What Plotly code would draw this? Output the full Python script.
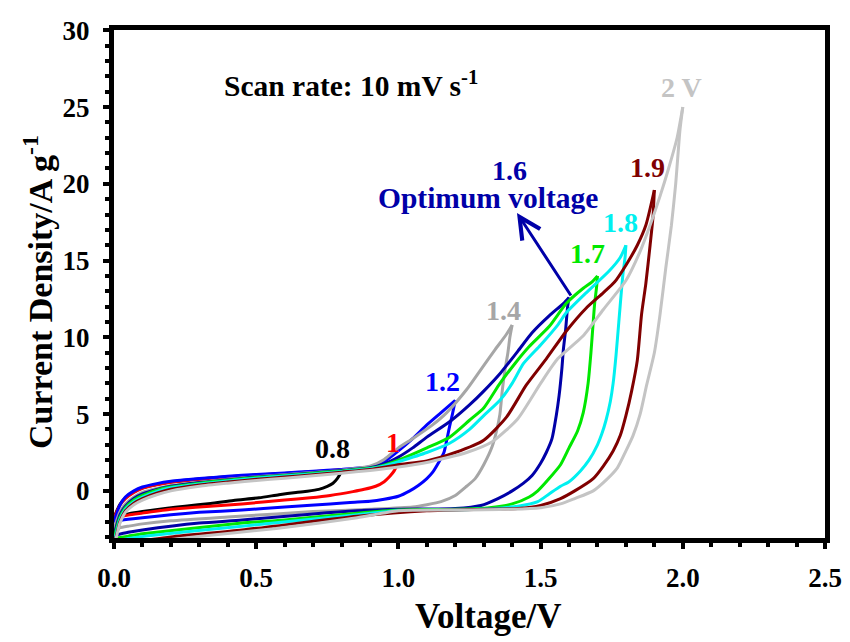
import plotly.graph_objects as go

# ---- data: CV loops (forward / reverse branches) for each voltage window ----
v_fwd_08 = [0, 0.01, 0.02, 0.04, 0.07, 0.1, 0.15, 0.2, 0.3, 0.4, 0.5, 0.6, 0.7, 0.8]
i_fwd_08 = [-1.75, -1.3, -0.9, -0.45, -0.05, 0.2, 0.42, 0.57, 0.77, 0.92, 1.03, 1.13, 1.25, 1.3]
v_rev_08 = [0.8, 0.795, 0.785, 0.77, 0.75, 0.72, 0.68, 0.64, 0.58, 0.51, 0.42, 0.34, 0.25, 0.18, 0.1, 0.05, 0.02, 0]
i_rev_08 = [1.3, 1.1, 0.8, 0.5, 0.3, 0.1, -0.02, -0.1, -0.25, -0.45, -0.62, -0.82, -1.0, -1.15, -1.35, -1.5, -1.62, -1.75]

v_fwd_10 = [0, 0.01, 0.02, 0.04, 0.07, 0.1, 0.15, 0.2, 0.3, 0.4, 0.5, 0.6, 0.7, 0.8, 0.9, 0.95, 0.98, 1.0]
i_fwd_10 = [-1.8, -1.35, -0.95, -0.5, -0.1, 0.17, 0.4, 0.56, 0.76, 0.9, 1.02, 1.12, 1.25, 1.37, 1.5, 1.68, 1.85, 2.05]
v_rev_10 = [1.0, 0.995, 0.985, 0.97, 0.95, 0.92, 0.88, 0.84, 0.76, 0.69, 0.6, 0.45, 0.3, 0.2, 0.1, 0.05, 0.02, 0]
i_rev_10 = [2.05, 1.7, 1.3, 0.95, 0.6, 0.3, 0.1, -0.05, -0.3, -0.45, -0.6, -0.85, -1.05, -1.2, -1.45, -1.58, -1.7, -1.8]

v_fwd_12 = [0, 0.01, 0.02, 0.04, 0.07, 0.1, 0.15, 0.2, 0.3, 0.4, 0.5, 0.6, 0.7, 0.8, 0.9, 0.95, 1.0, 1.05, 1.1, 1.15, 1.2]
i_fwd_12 = [-2.0, -1.45, -0.95, -0.4, 0.0, 0.25, 0.47, 0.62, 0.8, 0.95, 1.07, 1.17, 1.28, 1.4, 1.57, 1.9, 2.6, 3.4, 4.3, 5.1, 5.9]
v_rev_12 = [1.2, 1.19, 1.18, 1.17, 1.16, 1.14, 1.12, 1.1, 1.07, 1.04, 1.0, 0.95, 0.9, 0.83, 0.76, 0.6, 0.45, 0.3, 0.2, 0.1, 0.05, 0.02, 0]
i_rev_12 = [5.9, 5.0, 4.2, 3.3, 2.5, 1.8, 1.2, 0.8, 0.35, 0.0, -0.35, -0.55, -0.68, -0.75, -0.85, -1.05, -1.25, -1.4, -1.55, -1.75, -1.85, -1.93, -2.0]

v_fwd_14 = [0, 0.01, 0.02, 0.04, 0.07, 0.1, 0.15, 0.2, 0.3, 0.4, 0.5, 0.6, 0.7, 0.8, 0.9, 0.95, 1.0, 1.05, 1.12, 1.17, 1.24, 1.29, 1.34, 1.38, 1.4]
i_fwd_14 = [-2.5, -1.9, -1.4, -0.85, -0.4, -0.1, 0.15, 0.35, 0.55, 0.75, 0.92, 1.05, 1.2, 1.35, 1.6, 2.05, 2.8, 3.4, 4.3, 5.1, 6.6, 7.9, 9.2, 10.2, 10.8]
v_rev_14 = [1.4, 1.392, 1.385, 1.375, 1.365, 1.357, 1.345, 1.33, 1.3, 1.27, 1.24, 1.2, 1.15, 1.1, 1.05, 0.9, 0.7, 0.57, 0.4, 0.2, 0.1, 0.05, 0.02, 0]
i_rev_14 = [10.8, 10.0, 9.0, 7.9, 6.5, 5.0, 3.9, 2.9, 1.7, 0.8, 0.3, -0.3, -0.7, -0.9, -1.05, -1.2, -1.35, -1.5, -1.7, -1.95, -2.15, -2.3, -2.4, -2.5]

v_fwd_16 = [0, 0.01, 0.02, 0.04, 0.07, 0.1, 0.15, 0.2, 0.3, 0.4, 0.5, 0.6, 0.7, 0.8, 0.9, 0.95, 1.0, 1.05, 1.1, 1.18, 1.25, 1.3, 1.36, 1.42, 1.47, 1.53, 1.58, 1.6]
i_fwd_16 = [-2.9, -2.2, -1.6, -1.0, -0.5, -0.2, 0.1, 0.3, 0.55, 0.72, 0.9, 1.02, 1.17, 1.32, 1.5, 1.75, 2.2, 2.8, 3.5, 4.5, 5.6, 6.5, 7.7, 9.1, 10.3, 11.4, 12.2, 12.6]
v_rev_16 = [1.6, 1.595, 1.588, 1.58, 1.575, 1.565, 1.555, 1.54, 1.52, 1.5, 1.47, 1.44, 1.4, 1.35, 1.29, 1.2, 1.0, 0.855, 0.7, 0.45, 0.3, 0.1, 0.05, 0]
i_rev_16 = [12.6, 12.0, 10.5, 9.2, 8.0, 6.2, 4.9, 3.4, 2.5, 1.8, 1.0, 0.5, 0.0, -0.5, -0.95, -1.15, -1.2, -1.3, -1.5, -1.9, -2.1, -2.55, -2.7, -2.9]

v_fwd_17 = [0, 0.01, 0.02, 0.04, 0.07, 0.1, 0.15, 0.2, 0.3, 0.4, 0.5, 0.6, 0.7, 0.8, 0.9, 0.95, 1.0, 1.1, 1.18, 1.25, 1.3, 1.357, 1.41, 1.46, 1.53, 1.59, 1.65, 1.68, 1.7]
i_fwd_17 = [-3.1, -2.4, -1.75, -1.1, -0.6, -0.3, 0.05, 0.25, 0.5, 0.7, 0.87, 1.0, 1.15, 1.3, 1.47, 1.68, 2.0, 2.8, 3.5, 4.6, 5.4, 7.0, 8.3, 9.4, 10.7, 12.2, 13.2, 13.6, 14.0]
v_rev_17 = [1.7, 1.697, 1.69, 1.685, 1.677, 1.667, 1.65, 1.63, 1.6, 1.57, 1.53, 1.49, 1.46, 1.4, 1.32, 1.2, 1.0, 0.855, 0.6, 0.45, 0.1, 0.05, 0]
i_rev_17 = [14.0, 13.3, 12.2, 11.0, 9.0, 7.0, 5.1, 3.9, 2.8, 1.7, 0.8, 0.0, -0.4, -0.85, -1.1, -1.2, -1.25, -1.45, -1.9, -2.1, -2.8, -2.95, -3.1]

v_fwd_18 = [0, 0.01, 0.02, 0.04, 0.07, 0.1, 0.15, 0.2, 0.3, 0.4, 0.5, 0.6, 0.7, 0.8, 0.9, 0.95, 1.0, 1.1, 1.18, 1.25, 1.3, 1.357, 1.4, 1.44, 1.5, 1.56, 1.59, 1.66, 1.74, 1.78, 1.8]
i_fwd_18 = [-3.3, -2.6, -1.9, -1.2, -0.7, -0.4, -0.05, 0.2, 0.45, 0.65, 0.82, 0.97, 1.1, 1.27, 1.44, 1.62, 1.9, 2.5, 3.1, 4.0, 4.9, 5.9, 7.0, 8.3, 9.5, 10.8, 11.6, 12.9, 14.3, 15.2, 16.0]
v_rev_18 = [1.8, 1.797, 1.79, 1.785, 1.775, 1.765, 1.755, 1.745, 1.73, 1.715, 1.7, 1.67, 1.64, 1.6, 1.57, 1.53, 1.49, 1.42, 1.33, 1.2, 1.0, 0.855, 0.45, 0.13, 0.05, 0]
i_rev_18 = [16.0, 15.2, 14.2, 13.2, 11.0, 8.8, 7.0, 5.8, 4.6, 3.7, 3.0, 2.0, 1.3, 0.6, 0.3, -0.2, -0.7, -1.0, -1.15, -1.25, -1.3, -1.55, -2.3, -2.9, -3.1, -3.3]

v_fwd_19 = [0, 0.01, 0.02, 0.04, 0.07, 0.1, 0.15, 0.2, 0.3, 0.4, 0.5, 0.6, 0.7, 0.8, 0.9, 1.0, 1.1, 1.2, 1.3, 1.38, 1.45, 1.52, 1.59, 1.66, 1.72, 1.76, 1.8, 1.84, 1.87, 1.9]
i_fwd_19 = [-3.5, -2.8, -2.05, -1.3, -0.8, -0.5, -0.15, 0.1, 0.38, 0.58, 0.75, 0.9, 1.05, 1.22, 1.4, 1.7, 1.95, 2.5, 3.3, 4.8, 6.9, 8.6, 10.4, 11.9, 12.9, 13.6, 14.7, 16.0, 17.3, 19.6]
v_rev_19 = [1.9, 1.895, 1.885, 1.87, 1.855, 1.84, 1.82, 1.8, 1.78, 1.755, 1.72, 1.685, 1.62, 1.57, 1.5, 1.42, 1.3, 1.1, 0.855, 0.45, 0.2, 0]
i_rev_19 = [19.6, 17.8, 16.0, 13.5, 11.5, 8.5, 6.5, 4.9, 3.6, 2.6, 1.6, 0.8, 0.0, -0.5, -0.95, -1.15, -1.2, -1.3, -1.65, -2.55, -3.0, -3.5]

v_fwd_20 = [0, 0.01, 0.02, 0.04, 0.07, 0.1, 0.15, 0.2, 0.3, 0.4, 0.5, 0.6, 0.7, 0.8, 0.9, 1.0, 1.1, 1.24, 1.33, 1.42, 1.5, 1.56, 1.65, 1.72, 1.8, 1.85, 1.885, 1.92, 1.95, 1.98, 2.0]
i_fwd_20 = [-3.6, -2.9, -2.15, -1.4, -0.9, -0.6, -0.25, 0.0, 0.3, 0.5, 0.68, 0.83, 0.98, 1.15, 1.33, 1.55, 1.85, 2.5, 3.2, 4.7, 7.0, 8.6, 10.1, 11.8, 13.7, 15.6, 17.3, 19.2, 21.0, 23.0, 25.0]
v_rev_20 = [2.0, 1.99, 1.975, 1.96, 1.94, 1.92, 1.9, 1.873, 1.85, 1.825, 1.8, 1.77, 1.73, 1.685, 1.62, 1.57, 1.5, 1.4, 1.2, 1.0, 0.855, 0.57, 0.28, 0]
i_rev_20 = [25.0, 23.5, 20.0, 17.3, 14.5, 11.5, 9.0, 6.9, 5.0, 3.6, 2.6, 1.5, 0.7, 0.0, -0.5, -0.85, -1.1, -1.2, -1.25, -1.3, -1.75, -2.45, -3.0, -3.6]

window_labels = ["0.8", "1", "1.2", "1.4", "1.6", "1.7", "1.8", "1.9", "2 V"]
x_ticks = [0.0, 0.5, 1.0, 1.5, 2.0, 2.5]
y_ticks = [0, 5, 10, 15, 20, 25, 30]

# ---- styling ----
colors = ["#000000", "#FF0000", "#0000FF", "#A6A6A6", "#0000A8",
          "#00E800", "#00F0F0", "#800000", "#C4C4C4"]
label_pos = [(0.77, 2.75), (0.98, 3.15), (1.155, 7.1), (1.37, 11.75), (1.392, 20.85),
             (1.665, 15.45), (1.78, 17.45), (1.875, 21.05), (1.995, 26.25)]

curves = [
    (v_fwd_08, i_fwd_08, v_rev_08, i_rev_08),
    (v_fwd_10, i_fwd_10, v_rev_10, i_rev_10),
    (v_fwd_12, i_fwd_12, v_rev_12, i_rev_12),
    (v_fwd_14, i_fwd_14, v_rev_14, i_rev_14),
    (v_fwd_16, i_fwd_16, v_rev_16, i_rev_16),
    (v_fwd_17, i_fwd_17, v_rev_17, i_rev_17),
    (v_fwd_18, i_fwd_18, v_rev_18, i_rev_18),
    (v_fwd_19, i_fwd_19, v_rev_19, i_rev_19),
    (v_fwd_20, i_fwd_20, v_rev_20, i_rev_20),
]

FONT = "Liberation Serif"
NUM_SIZE = 28
WORD_SIZE = 29.5

fig = go.Figure()
for (vf, jf, vr, jr), col in zip(curves, colors):
    for vx, iy in ((vf, jf), (vr, jr)):
        fig.add_trace(go.Scatter(
            x=vx, y=iy, mode="lines",
            line=dict(color=col, width=3, shape="spline", smoothing=0.6),
            showlegend=False, hoverinfo="skip"))

annotations = []
for txt, col, (ax_, ay_) in zip(window_labels, colors, label_pos):
    annotations.append(dict(x=ax_, y=ay_, xref="x", yref="y", text=txt, showarrow=False,
                            xanchor="center", yanchor="middle",
                            font=dict(family=FONT, size=NUM_SIZE, color=col, weight="bold")))

annotations.append(dict(x=1.315, y=19.1, xref="x", yref="y", text="Optimum voltage",
                        showarrow=False, xanchor="center", yanchor="middle",
                        font=dict(family=FONT, size=WORD_SIZE, color="#0000A8", weight="bold")))
annotations.append(dict(x=1.417, y=18.1, xref="x", yref="y", ax=1.61, ay=12.63,
                        axref="x", ayref="y", text="", showarrow=True,
                        arrowhead=5, arrowsize=1.4, arrowwidth=3, arrowcolor="#0000A8",
                        standoff=0, startstandoff=0))
annotations.append(dict(x=0.38, y=26.5, xref="x", yref="y", xanchor="left", yanchor="middle",
                        text="Scan rate: 10 mV s<sup>-1</sup>", showarrow=False,
                        font=dict(family=FONT, size=WORD_SIZE, color="#000000", weight="bold")))
# axis titles
annotations.append(dict(x=0.526, y=-0.1555, xref="paper", yref="paper", text="Voltage/V",
                        showarrow=False, xanchor="center", yanchor="middle",
                        font=dict(family=FONT, size=35, color="#000000", weight="bold")))
annotations.append(dict(x=-0.107, y=0.484, xref="paper", yref="paper",
                        text="Current Density/A g<sup>-1</sup>", textangle=-90,
                        showarrow=False, xanchor="center", yanchor="middle",
                        font=dict(family=FONT, size=34, color="#000000", weight="bold")))

axis_common = dict(
    showline=True, linewidth=5, linecolor="#000000", mirror=True,
    showgrid=False, zeroline=False, automargin=False,
    ticks="outside", ticklen=6, tickwidth=4, tickcolor="#000000",
    tickfont=dict(family=FONT, size=27, color="#000000", weight="bold"),
)

fig.update_layout(
    width=850, height=642,
    margin=dict(l=114, r=25, t=30, b=104),
    paper_bgcolor="white", plot_bgcolor="white",
    showlegend=False,
    annotations=annotations,
    xaxis=dict(range=[0, 2.5], tickvals=x_ticks, tickformat=".1f",
               minor=dict(dtick=0.1, ticks="outside", ticklen=4, tickwidth=4, tickcolor="#000000"),
               ticklabelstandoff=6, **axis_common),
    yaxis=dict(range=[-3.07, 30.02], tickvals=y_ticks,
               minor=dict(dtick=1, tick0=0, ticks="outside", ticklen=4, tickwidth=4, tickcolor="#000000"),
               ticklabelstandoff=8, **axis_common),
)

# remove the default page margin so the 850x642 figure fills the window exactly
fig.write_html("out.html", config={"displayModeBar": False},
               post_script="document.body.style.margin='0';")
